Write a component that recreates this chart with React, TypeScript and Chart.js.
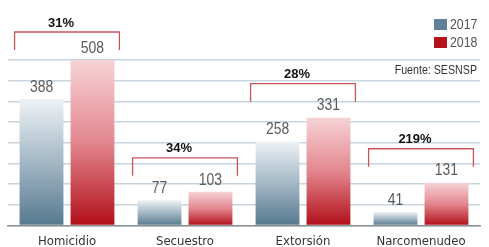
import React, { useEffect, useRef } from "react";
import { Chart, registerables } from "chart.js";

Chart.register(...registerables);

const categories = ["Homicidio", "Secuestro", "Extorsión", "Narcomenudeo"];
const values2017 = [388, 77, 258, 41];
const values2018 = [508, 103, 331, 131];
const changeLabels = ["31%", "34%", "28%", "219%"];
const seriesLabels = ["2017", "2018"];
const sourceText = "Fuente: SESNSP";

const COND = '"DejaVu Sans Condensed", "Liberation Sans", sans-serif';
const BLUE = "#5e8197";
const RED = "#b5121b";
const gradStops = [
  ["#eef2f5", "#a3b7c5", "#56798f"],
  ["#f6d3d6", "#e3868e", "#b10f19"],
];

function makeBg(dsIndex: number) {
  return (c: any) => {
    const chart = c.chart;
    if (c.type !== "data" || !chart.chartArea) return dsIndex === 0 ? BLUE : RED;
    const y = chart.scales.y;
    const top = y.getPixelForValue(c.raw);
    const base = y.getPixelForValue(0);
    const g = chart.ctx.createLinearGradient(0, top, 0, base);
    const s = gradStops[dsIndex];
    g.addColorStop(0, s[0]);
    g.addColorStop(0.5, s[1]);
    g.addColorStop(1, s[2]);
    return g;
  };
}

function narrowText(ctx: CanvasRenderingContext2D, text: string, x: number, y: number, size: number, align: CanvasTextAlign, color: string, weight = "normal") {
  ctx.save();
  ctx.font = `${weight} ${size}px "Liberation Sans", Arial, sans-serif`;
  ctx.fillStyle = color;
  ctx.textAlign = align;
  ctx.textBaseline = "middle";
  ctx.translate(x, y);
  ctx.scale(0.82, 1);
  ctx.fillText(text, 0, 0);
  ctx.restore();
}

const overlayPlugin = {
  id: "overlay",
  afterDatasetsDraw(chart: any) {
    const ctx = chart.ctx;
    const m0 = chart.getDatasetMeta(0);
    const m1 = chart.getDatasetMeta(1);
    ctx.save();
    // value labels
    [m0, m1].forEach((m, di) => {
      m.data.forEach((bar: any, j: number) => {
        const v = di === 0 ? values2017[j] : values2018[j];
        narrowText(ctx, String(v), bar.x, bar.y - 12, 17, "center", "#5a5a5a");
      });
    });
    // brackets
    categories.forEach((_, j) => {
      const b0 = m0.data[j];
      const b1 = m1.data[j];
      const left = b0.x - b0.width / 2 - 5;
      const right = b1.x + b1.width / 2 + 5;
      const topBar = Math.min(b0.y, b1.y);
      const top = Math.max(32, topBar - 5 - 13 - 16);
      ctx.strokeStyle = "#c9545e";
      ctx.lineWidth = 1.3;
      ctx.beginPath();
      ctx.moveTo(left, top + 18);
      ctx.lineTo(left, top);
      ctx.lineTo(right, top);
      ctx.lineTo(right, top + 18);
      ctx.stroke();
      ctx.font = `bold 13px "Liberation Sans", Arial, sans-serif`;
      ctx.fillStyle = "#111";
      ctx.textBaseline = "middle";
      ctx.textAlign = "center";
      ctx.fillText(changeLabels[j], (left + right) / 2 - 6, top - 9);
    });
    // legend
    const colors = [BLUE, RED];
    seriesLabels.forEach((lab, i) => {
      const y = 19 + i * 18;
      ctx.fillStyle = colors[i];
      ctx.fillRect(434, y, 13, 11);
      narrowText(ctx, lab, 450, y + 6, 15, "left", "#555");
    });
    // source
    narrowText(ctx, sourceText, 477, 70, 13, "right", "#333");
    ctx.restore();
  },
};

export default function App() {
  const ref = useRef<HTMLCanvasElement>(null);
  useEffect(() => {
    if (!ref.current) return;
    const chart = new Chart(ref.current, {
      type: "bar",
      data: {
        labels: categories,
        datasets: [
          { label: seriesLabels[0], data: values2017, backgroundColor: makeBg(0) as any, borderWidth: 0 },
          { label: seriesLabels[1], data: values2018, backgroundColor: makeBg(1) as any, borderWidth: 0 },
        ],
      },
      options: {
        animation: false,
        responsive: true,
        maintainAspectRatio: false,
        layout: { padding: { left: 8, right: 9, top: 60, bottom: -10 } },
        datasets: { bar: { categoryPercentage: 0.864, barPercentage: 0.86 } },
        plugins: { legend: { display: false }, tooltip: { enabled: false } },
        scales: {
          x: {
            grid: { display: false, drawTicks: false },
            border: { display: true, color: "#8a8f94", width: 1.5 },
            ticks: { color: "#333", font: { family: COND, size: 13 }, padding: 8 },
          },
          y: {
            min: 0,
            max: 508,
            ticks: { display: false, stepSize: 63.5 },
            grid: { color: "#c8d4de", lineWidth: 1.5, drawTicks: false },
            border: { display: false },
          },
        },
      },
      plugins: [overlayPlugin],
    });
    return () => chart.destroy();
  }, []);
  return (
    <div style={{ position: "absolute", left: 0, top: 0, width: 489, height: 247, background: "#fff" }}>
      <canvas ref={ref} />
    </div>
  );
}
